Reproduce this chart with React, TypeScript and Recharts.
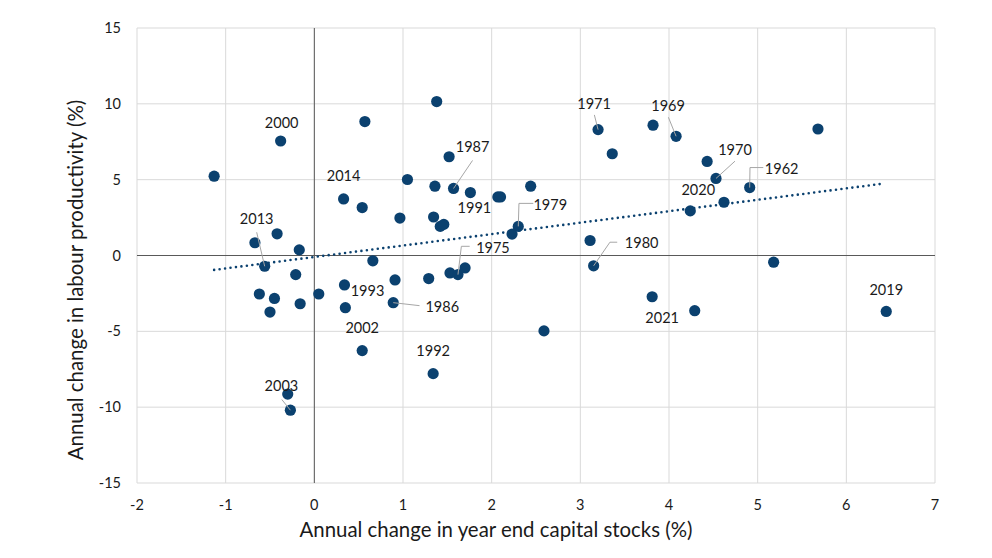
import React from 'react';
import { ScatterChart, Scatter, XAxis, YAxis, CartesianGrid, ReferenceLine } from 'recharts';

const capitalGrowth = [
  -1.13, -0.38, 0.57, 1.38, 1.52, 1.05, 1.36, 1.57, 1.76, 2.07, 2.1, 2.44,
  0.33, 0.54, 0.965, 1.345, 1.42, 1.46, 2.3, 2.23, -0.67, -0.42, -0.17, -0.56,
  0.66, -0.21, 1.53, 1.62, 1.7, 0.91, 1.29, 0.34, -0.62, -0.45, 0.05, -0.16,
  -0.5, 0.35, 0.89, 0.54, 1.34, -0.3, -0.27, 2.59, 3.2, 3.82, 4.08, 3.36,
  4.43, 4.53, 4.91, 5.68, 4.24, 4.62, 3.11, 3.15, 5.18, 3.81, 4.29, 6.45,
];
const productivityGrowth = [
  5.23, 7.55, 8.83, 10.15, 6.51, 5.01, 4.57, 4.42, 4.15, 3.86, 3.86, 4.57,
  3.73, 3.16, 2.47, 2.54, 1.92, 2.05, 1.92, 1.41, 0.84, 1.43, 0.37, -0.71,
  -0.35, -1.26, -1.15, -1.26, -0.82, -1.61, -1.52, -1.94, -2.54, -2.83, -2.54, -3.18,
  -3.73, -3.44, -3.11, -6.27, -7.79, -9.14, -10.2, -4.97, 8.3, 8.59, 7.86, 6.71,
  6.2, 5.08, 4.48, 8.34, 2.94, 3.51, 0.99, -0.68, -0.44, -2.72, -3.64, -3.69,
];
const yearLabels = [
  '', '2000', '', '', '', '', '', '1987', '1991', '', '', '',
  '2014', '', '', '', '', '', '1979', '', '', '', '', '2013',
  '', '', '', '1975', '', '', '', '1993', '', '', '', '',
  '', '', '1986', '2002', '1992', '', '2003', '', '1971', '', '1969', '',
  '', '1970', '1962', '', '2020', '', '', '1980', '', '2021', '', '2019',
];
const trendX = [-1.13, 6.43];
const trendY = [-0.95, 4.75];
const xTicks = [-2, -1, 0, 1, 2, 3, 4, 5, 6, 7];
const yTicks = [-15, -10, -5, 0, 5, 10, 15];

const xTitle = 'Annual change in year end capital stocks (%)';
const yTitle = 'Annual change in labour productivity (%)';

const points = capitalGrowth.map((x, i) => ({ x, y: productivityGrowth[i], year: yearLabels[i] }));
const trend = trendX.map((x, i) => ({ x, y: trendY[i] }));

// label placement (pixel offsets of label centre from the marker, and leader line vertices)
const LABEL_LAYOUT: Record<string, { dx: number; dy: number; leader?: number[][] }> = {
  '2000': { dx: 1, dy: -18 },
  '2014': { dx: 0, dy: -23 },
  '2013': { dx: -8, dy: -47, leader: [[-8, -34], [0, 0]] },
  '1987': { dx: 19, dy: -42, leader: [[19, -28], [0, 0]] },
  '1991': { dx: 4, dy: 15 },
  '1975': { dx: 35, dy: -27, leader: [[11.7, -28.3], [3.4, -28.3], [0, 0]] },
  '1979': { dx: 32, dy: -22, leader: [[15, -23], [0.7, -23], [0, 0]] },
  '1971': { dx: -4, dy: -26, leader: [[-3.7, -14.7], [0, 0]] },
  '1969': { dx: -8, dy: -31, leader: [[-7.7, -19], [0, 0]] },
  '1970': { dx: 19, dy: -29, leader: [[19, -17.3], [0, 0]] },
  '1962': { dx: 32, dy: -19, leader: [[13.6, -20], [0.3, -20], [0, 0]] },
  '2020': { dx: 8, dy: -21 },
  '1980': { dx: 48, dy: -23, leader: [[23.6, -23.6], [16.3, -23.6], [0, 0]] },
  '1993': { dx: 23, dy: 6 },
  '1986': { dx: 49, dy: 4, leader: [[26.3, 3], [0, 0]] },
  '2002': { dx: 0, dy: -23 },
  '1992': { dx: 0, dy: -23 },
  '2003': { dx: -9, dy: -24, leader: [[-8.6, -10.7], [0, 0]] },
  '2021': { dx: 10, dy: 21 },
  '2019': { dx: 0, dy: -22 },
};

const BLUE = '#0b416f';
const FONT = "Lato, 'Open Sans', sans-serif";
const TEXT = '#1a1a1a';
const LABEL_SIZE = 14.5;
const TITLE_SIZE = 20.4;

const Dot = (props: any) => {
  const { cx, cy } = props;
  if (cx == null || cy == null) return <g />;
  return <circle cx={cx} cy={cy} r={5.6} fill={BLUE} />;
};

const YearLabel = (props: any) => {
  const { cx, cy, payload } = props;
  const year = payload?.year;
  if (!year || cx == null || cy == null) return <g />;
  const l = LABEL_LAYOUT[year] || { dx: 0, dy: -20 };
  return (
    <g>
      {l.leader && (
        <polyline
          points={l.leader.map(([a, b]) => `${cx + a},${cy + b}`).join(' ')}
          fill="none"
          stroke="#a6a6a6"
          strokeWidth={1}
        />
      )}
      <text
        x={cx + l.dx}
        y={cy + l.dy + LABEL_SIZE * 0.36}
        textAnchor="middle"
        fontFamily={FONT}
        fontSize={LABEL_SIZE}
        fill={TEXT}
      >
        {year}
      </text>
    </g>
  );
};

const XTitle = (props: any) => {
  const vb = props.viewBox || {};
  return (
    <text x={vb.x + 359} y={vb.y + 54} textAnchor="middle" fontFamily={FONT} fontSize={TITLE_SIZE} fill={TEXT}>
      {xTitle}
    </text>
  );
};

const YTitle = (props: any) => {
  const vb = props.viewBox || {};
  const cx = 83;
  const cy = vb.y + 252;
  return (
    <text x={cx} y={cy} textAnchor="middle" transform={`rotate(-90, ${cx}, ${cy})`} fontFamily={FONT} fontSize={TITLE_SIZE} fill={TEXT}>
      {yTitle}
    </text>
  );
};

const tickStyle = { fontFamily: FONT, fontSize: 14.5, fill: TEXT };

export default function App() {
  return (
    <div style={{ position: 'absolute', left: 0, top: 0, width: 992, height: 558, background: '#fff' }}>
      <ScatterChart width={992} height={558} margin={{ top: 28, right: 57, bottom: 0, left: 0 }}>
        <CartesianGrid stroke="#d9d9d9" strokeWidth={1} />
        <XAxis
          type="number"
          dataKey="x"
          domain={[-2, 7]}
          ticks={xTicks}
          interval={0}
          axisLine={false}
          tickLine={false}
          tickSize={0}
          tickMargin={17}
          height={75}
          tick={tickStyle}
          label={<XTitle />}
        />
        <YAxis
          type="number"
          dataKey="y"
          domain={[-15, 15]}
          ticks={yTicks}
          interval={0}
          axisLine={false}
          tickLine={false}
          tickSize={0}
          tickMargin={16}
          width={137}
          tick={tickStyle}
          label={<YTitle />}
        />
        <ReferenceLine x={0} stroke="#595959" strokeWidth={1} />
        <ReferenceLine y={0} stroke="#595959" strokeWidth={1} />
        <Scatter data={points} shape={<Dot />} isAnimationActive={false} />
        <Scatter
          data={trend}
          line={{ stroke: BLUE, strokeWidth: 2.6, strokeDasharray: '0 5.5', strokeLinecap: 'round' }}
          shape={() => <g />}
          isAnimationActive={false}
        />
        <Scatter data={points} shape={<YearLabel />} isAnimationActive={false} />
      </ScatterChart>
    </div>
  );
}
